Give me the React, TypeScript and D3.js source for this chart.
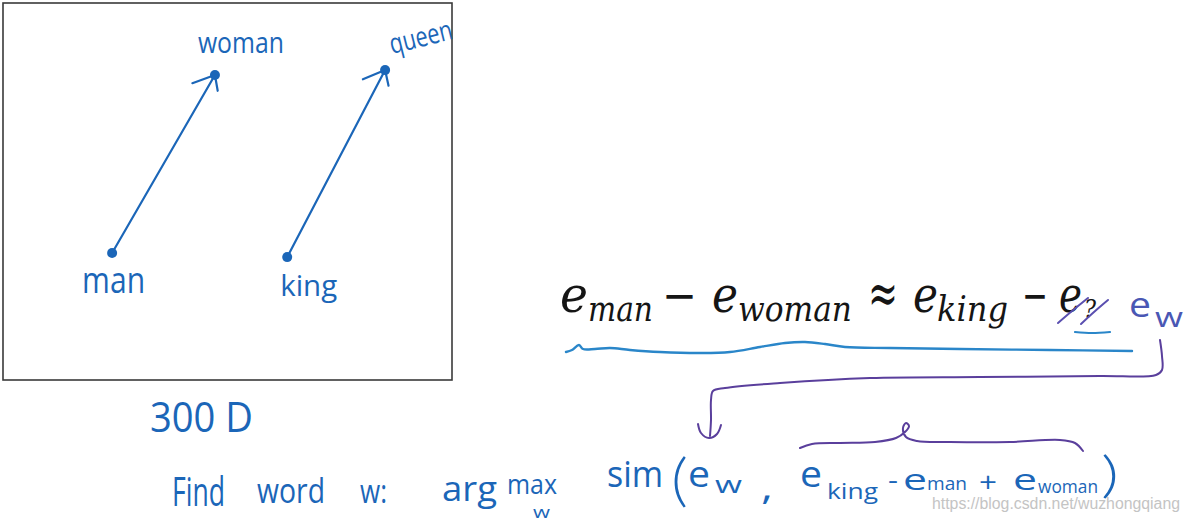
import React from 'react';
import * as d3 from 'd3';

// word vectors drawn in the 2-D sketch (arbitrary units, 0..100)
const words = ['man', 'woman', 'king', 'queen'];
const dimX = [24.3, 47.2, 63.3, 85.1];
const dimY = [33.7, 80.9, 32.6, 82.2];
const arrowFrom = ['man', 'king'];
const arrowTo = ['woman', 'queen'];

// text pieces
const dimLabel = '300 D';
const eqTokens = ['e', 'man', '\u2212', 'e', 'woman', '\u2248', 'e', 'king', '\u2212', 'e', '?'];
const findTokens = ['Find', 'word', 'w:', 'arg', 'max', 'w', 'sim', '(', 'e', 'w', ',', 'e', 'king', '-', 'e', 'man', '+', 'e', 'woman', ')'];
const ewTokens = ['e', 'w'];
const watermark = 'https://blog.csdn.net/wuzhongqiang';

const W = 1190;
const H = 523;
const BLUE = '#1b66b8';
const PURPLE = '#5a3f9c';
const HAND = '"Open Sans", "DejaVu Sans", sans-serif';
const THIN = 'Lato, "Open Sans", sans-serif';

// layout of each label around its point: [dx, dy, fontSize, textLength, rotate]
const labelLayout: Record<string, [number, number, number, number, number]> = {
    man: [-30, 40, 36, 63, 0],
    woman: [-17, -22, 30, 86, 0],
    king: [-7, 39, 30, 57, 0],
    queen: [7, -16, 28, 64, -14],
};

// equation layout: [x, baseline, fontSize, textLength, italic]
const eqLayout: [number, number, number, number, boolean][] = [
    [560, 312, 50, 28, true],
    [588, 321, 36, 65, true],
    [662, 312, 48, 35, false],
    [712, 312, 50, 26, true],
    [738, 321, 36, 114, true],
    [868, 313, 58, 30, false],
    [913, 312, 50, 25, true],
    [937, 321, 36, 71, true],
    [1022, 312, 48, 26, false],
    [1059, 312, 50, 23, true],
    [1084, 318, 26, 12, true],
];

// bottom handwritten line layout: [x, baseline, fontSize, textLength, thin]
const findLayout: [number, number, number, number, boolean][] = [
    [172, 506, 40, 53, false],
    [257, 503, 34, 68, false],
    [360, 503, 32, 27, false],
    [442, 501, 34, 55, false],
    [507, 494, 28, 50, false],
    [533, 518, 17, 17, false],
    [607, 487, 36, 56, false],
    [671, 500, 58, 17, true],
    [688, 487, 36, 22, false],
    [715, 493, 24, 27, false],
    [761, 500, 34, 12, false],
    [800, 487, 36, 22, false],
    [827, 499, 22, 51, false],
    [888, 489, 26, 10, false],
    [903, 490, 30, 24, false],
    [927, 490, 18, 40, false],
    [979, 492, 28, 18, false],
    [1013, 490, 30, 24, false],
    [1038, 493, 18, 60, false],
    [1101, 492, 50, 18, true],
];

// hand-drawn strokes, in page units
const underlineStroke: [number, number][] = [
    [566, 352], [572, 350], [579, 345], [583, 349], [595, 349], [610, 348], [630, 350],
    [660, 352], [700, 353], [730, 352], [760, 347], [785, 343], [805, 342], [825, 344],
    [845, 347], [890, 348], [960, 349], [1050, 350], [1132, 351],
];
const bracketStroke: [number, number][] = [
    [1160, 340], [1162, 356], [1162, 370], [1156, 375], [1100, 376], [980, 377],
    [870, 378], [780, 383], [725, 388], [713, 391], [711, 400], [711, 420], [710, 436],
];
const bracketHead: [number, number][] = [[698, 424], [701, 433], [709, 438], [717, 434], [721, 425]];
const braceStroke: [number, number][] = [
    [800, 448], [812, 444], [840, 443], [875, 442], [896, 438], [905, 432], [909, 426],
    [906, 423], [903, 428], [906, 437], [917, 441], [950, 442], [1010, 442], [1060, 440],
    [1075, 443], [1083, 451],
];
const strikeStrokes: [number, number][][] = [
    [[1058, 323], [1072, 311], [1088, 298]],
    [[1081, 324], [1094, 312], [1108, 300]],
];
const qUnderline: [number, number][] = [[1075, 332], [1092, 333], [1110, 332]];

const App: React.FC = () => {
    const xScale = d3.scaleLinear().domain([0, 100]).range([3, 452]);
    const yScale = d3.scaleLinear().domain([0, 100]).range([380, 3]);
    const pt = (w: string): [number, number] => {
        const i = words.indexOf(w);
        return [xScale(dimX[i]), yScale(dimY[i])];
    };

    const smooth = d3.line<[number, number]>().x(d => d[0]).y(d => d[1]).curve(d3.curveCatmullRom);

    const arrowHead = (from: [number, number], to: [number, number]) => {
        const ang = Math.atan2(from[1] - to[1], from[0] - to[0]);
        const a1 = ang + (40 * Math.PI) / 180;
        const a2 = ang - (40 * Math.PI) / 180;
        const p1: [number, number] = [to[0] + 24 * Math.cos(a1), to[1] + 24 * Math.sin(a1)];
        const p2: [number, number] = [to[0] + 16 * Math.cos(a2), to[1] + 16 * Math.sin(a2)];
        return d3.line()([p1, to, p2]) ?? '';
    };

    return (
        <svg
            width={W}
            height={H}
            viewBox={`0 0 ${W} ${H}`}
            style={{ position: 'absolute', left: 0, top: 0, background: '#fff' }}
        >
            <rect x={0} y={0} width={W} height={H} fill="#fff" />

            {/* embedding-space box */}
            <rect
                x={xScale(0)}
                y={yScale(100)}
                width={xScale(100) - xScale(0)}
                height={yScale(0) - yScale(100)}
                fill="none"
                stroke="#3a3a3a"
                strokeWidth={1.6}
            />

            {arrowFrom.map((f, i) => {
                const a = pt(f);
                const b = pt(arrowTo[i]);
                return (
                    <g key={f} stroke={BLUE} strokeWidth={2.2} fill="none" strokeLinecap="round">
                        <line x1={a[0]} y1={a[1]} x2={b[0]} y2={b[1]} />
                        <path d={arrowHead(a, b)} strokeLinejoin="round" />
                    </g>
                );
            })}

            {words.map(w => {
                const [px, py] = pt(w);
                const [dx, dy, fs, len, rot] = labelLayout[w];
                const tx = px + dx;
                const ty = py + dy;
                return (
                    <g key={w}>
                        <circle cx={px} cy={py} r={5} fill={BLUE} />
                        <text
                            x={tx}
                            y={ty}
                            fontFamily={HAND}
                            fontSize={fs}
                            fill={BLUE}
                            textLength={len}
                            lengthAdjust="spacingAndGlyphs"
                            transform={rot ? `rotate(${rot},${tx},${ty})` : undefined}
                        >
                            {w}
                        </text>
                    </g>
                );
            })}

            <text
                x={150}
                y={432}
                fontFamily={HAND}
                fontSize={42}
                fill={BLUE}
                textLength={103}
                lengthAdjust="spacingAndGlyphs"
            >
                {dimLabel}
            </text>

            {/* typeset equation */}
            {eqTokens.map((t, i) => {
                const [x, y, fs, len, it] = eqLayout[i];
                return (
                    <text
                        key={`eq${i}`}
                        x={x}
                        y={y}
                        fontFamily='"DejaVu Serif", "Liberation Serif", serif'
                        fontStyle={it ? 'italic' : 'normal'}
                        fontSize={fs}
                        fill="#151515"
                        textLength={len}
                        lengthAdjust="spacingAndGlyphs"
                    >
                        {t}
                    </text>
                );
            })}

            {/* handwritten e_w replacing e_? */}
            <text x={1129} y={317} fontFamily={HAND} fontSize={34} fill="#4a57b4" textLength={22} lengthAdjust="spacingAndGlyphs">
                {ewTokens[0]}
            </text>
            <text x={1155} y={327} fontFamily={HAND} fontSize={28} fill="#4a57b4" textLength={28} lengthAdjust="spacingAndGlyphs">
                {ewTokens[1]}
            </text>

            <g fill="none" strokeLinecap="round" strokeLinejoin="round">
                <path d={smooth(underlineStroke) ?? ''} stroke="#2a86c9" strokeWidth={2.4} />
                <path d={smooth(qUnderline) ?? ''} stroke="#2a86c9" strokeWidth={2.2} />
                {strikeStrokes.map((s, i) => (
                    <path key={`s${i}`} d={smooth(s) ?? ''} stroke="#5a4fb0" strokeWidth={2} />
                ))}
                <path d={smooth(bracketStroke) ?? ''} stroke={PURPLE} strokeWidth={2} />
                <path d={smooth(bracketHead) ?? ''} stroke={PURPLE} strokeWidth={2} />
                <path d={smooth(braceStroke) ?? ''} stroke={PURPLE} strokeWidth={2} />
            </g>

            {/* bottom handwritten line */}
            {findTokens.map((t, i) => {
                const [x, y, fs, len, thin] = findLayout[i];
                return (
                    <text
                        key={`f${i}`}
                        x={x}
                        y={y}
                        fontFamily={thin ? THIN : HAND}
                        fontWeight={thin ? 300 : 400}
                        fontSize={fs}
                        fill={BLUE}
                        textLength={len}
                        lengthAdjust="spacingAndGlyphs"
                    >
                        {t}
                    </text>
                );
            })}

            <text
                x={932}
                y={509}
                fontFamily='"Liberation Sans", Arial, sans-serif'
                fontSize={16}
                fill="#c4c4c4"
                textLength={248}
                lengthAdjust="spacingAndGlyphs"
            >
                {watermark}
            </text>
        </svg>
    );
};

export default App;
